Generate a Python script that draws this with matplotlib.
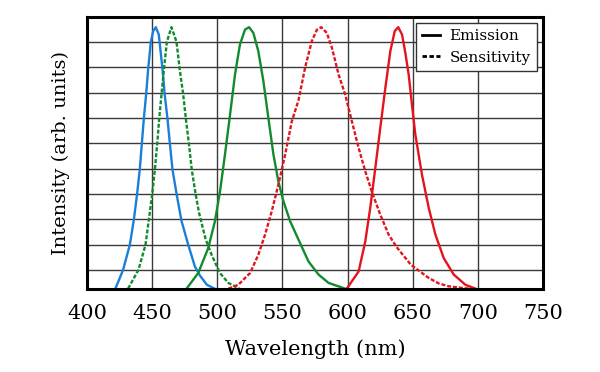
import matplotlib.pyplot as plt

# emission / sensitivity spectra, normalised to peak = 1
blue_em_x = [421.8, 427.7, 432.9, 436, 438.5, 440.5, 442.1, 443.6, 445.4, 446.9, 449, 450.8, 452.8,
             455.1, 458, 459.6, 461.8, 463.6, 465.6, 468.7, 472.5, 477.7, 482.8, 486.7, 492, 498]
blue_em_y = [0.0, 0.072, 0.168, 0.265, 0.364, 0.456, 0.555, 0.649, 0.744, 0.837, 0.944, 0.985, 1.0,
             0.972, 0.837, 0.744, 0.649, 0.555, 0.456, 0.364, 0.26, 0.168, 0.085, 0.05, 0.015, 0.0]

green_sens_x = [431.5, 439.5, 444.9, 447.5, 450.1, 452.1, 453.9, 455.4, 457.2, 459, 461.3, 464.8,
                468.7, 471.2, 473.8, 475.9, 478.2, 480.5, 483.3, 486, 491, 495.6, 502, 508.5, 517]
green_sens_y = [0.0, 0.072, 0.168, 0.265, 0.364, 0.456, 0.555, 0.649, 0.744, 0.837, 0.944, 1.0,
                0.944, 0.837, 0.744, 0.649, 0.555, 0.452, 0.364, 0.29, 0.19, 0.13, 0.06, 0.022, 0.0]

green_em_x = [476.4, 485.4, 493.1, 498.2, 502.1, 505.9, 509.8, 513.6, 517.4, 521.3, 524.4, 527.7,
              531.5, 535.4, 539.2, 543.1, 546.9, 550.8, 555.9, 562.3, 570, 577.7, 585.4, 598.2]
green_em_y = [0.0, 0.06, 0.156, 0.258, 0.372, 0.513, 0.666, 0.819, 0.934, 0.991, 1.0, 0.978,
              0.908, 0.793, 0.653, 0.513, 0.41, 0.334, 0.258, 0.188, 0.104, 0.054, 0.022, 0.0]

red_sens_x = [508.5, 516.2, 525.2, 531.5, 536.7, 541.8, 546.9, 552.1, 557.2, 562.3, 567.4, 572.5,
              576.4, 579.8, 584.1, 588, 593.1, 598.2, 603.3, 608.5, 613.6, 618.7, 625.1, 631.5,
              637.5, 648.5, 657.1, 662.3, 670, 677.7, 693]
red_sens_y = [0.0, 0.015, 0.06, 0.13, 0.207, 0.296, 0.398, 0.513, 0.64, 0.72, 0.845, 0.946,
              0.99, 1.0, 0.978, 0.921, 0.819, 0.742, 0.64, 0.538, 0.449, 0.37, 0.283, 0.207,
              0.16, 0.092, 0.06, 0.041, 0.02, 0.009, 0.0]

red_em_x = [599.4, 608.5, 613.6, 617.4, 621.3, 625.1, 629, 632.8, 636.2, 638.9, 641.8, 644.4,
            646.9, 649.5, 652, 657.1, 662.3, 667.4, 673.8, 681.5, 690.4, 698.2]
red_em_y = [0.0, 0.066, 0.181, 0.309, 0.462, 0.615, 0.768, 0.908, 0.985, 1.0, 0.972, 0.9,
            0.819, 0.7, 0.59, 0.436, 0.309, 0.207, 0.117, 0.054, 0.015, 0.0]

xticks = [400, 450, 500, 550, 600, 650, 700, 750]

plt.rcParams['font.family'] = ['DejaVu Serif']

fig = plt.figure(figsize=(6, 3.72), dpi=100)
ax = fig.add_axes([0.145, 0.224, 0.76, 0.731])

blue = '#1a7fd6'
green = '#138a2e'
red = '#e3141c'
dash = (0, (1.7, 0.8))

ax.plot(blue_em_x, blue_em_y, color=blue, lw=1.7)
ax.plot(green_sens_x, green_sens_y, color=green, lw=1.7, linestyle=dash)
ax.plot(green_em_x, green_em_y, color=green, lw=1.7)
ax.plot(red_sens_x, red_sens_y, color=red, lw=1.7, linestyle=dash)
ax.plot(red_em_x, red_em_y, color=red, lw=1.7)

# legend uses black proxies
ax.plot([], [], color='black', lw=2, label='Emission')
ax.plot([], [], color='black', lw=2, linestyle=(0, (1.6, 0.9)), label='Sensitivity')
leg = ax.legend(loc='upper right', fontsize=11, frameon=True, fancybox=False,
                edgecolor='#333333', framealpha=1, handlelength=1.2,
                handletextpad=0.6, borderpad=0.4, labelspacing=0.5,
                borderaxespad=0.4)
leg.get_frame().set_linewidth(1.0)

ax.set_xlim(400, 750)
ax.set_ylim(0, 1.04)
ax.set_xticks(xticks)
ax.set_yticks([0.071 + 0.097 * k for k in range(10)])
ax.set_yticklabels([])
ax.tick_params(axis='x', length=0, labelsize=15, pad=11)
ax.tick_params(axis='y', length=0, pad=0)
ax.grid(True, color='#3a3a3a', lw=1.0)
ax.set_axisbelow(True)
for s in ax.spines.values():
    s.set_linewidth(2.2)
    s.set_color('black')

ax.set_xlabel('Wavelength (nm)', fontsize=15, labelpad=12)
ax.set_ylabel('Intensity (arb. units)', fontsize=14, labelpad=12)

plt.savefig('out.png', dpi=100)
